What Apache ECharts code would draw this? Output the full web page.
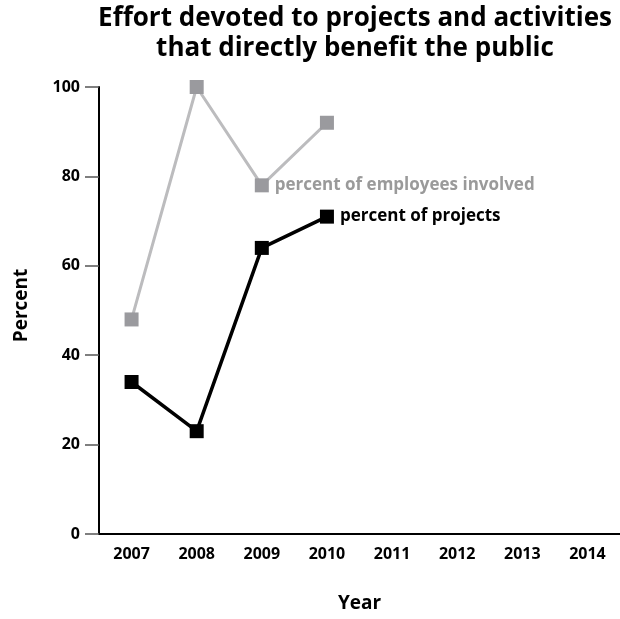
<!DOCTYPE html>
<html><head><meta charset="utf-8">
<script src="https://cdn.jsdelivr.net/npm/echarts@6/dist/echarts.min.js"></script>
<style>html,body{margin:0;padding:0;background:#fff}#c{width:620px;height:619px}</style>
</head><body><div id="c"></div>
<script>
const years = ['2007','2008','2009','2010','2011','2012','2013','2014'];
const employees = [48, 100, 78, 92];
const projects = [34, 23, 64, 71];
const titleLines = ['Effort devoted to projects and activities', 'that directly benefit the public'];
const employeesLabel = 'percent of employees involved';
const projectsLabel = 'percent of projects';
const FONT = 'Open Sans';

const chart = echarts.init(document.getElementById('c'));
const empData = employees.map((v, i) => i === 2 ? {value: v, label: {show: true, position: 'right', distance: 6, formatter: employeesLabel, color: '#9a9a9a', fontFamily: FONT, fontWeight: 'bold', fontSize: 17}} : v);
const projData = projects.map((v, i) => i === projects.length - 1 ? {value: v, label: {show: true, position: 'right', distance: 6, formatter: projectsLabel, color: '#000', fontFamily: FONT, fontWeight: 'bold', fontSize: 17}} : v);
chart.setOption({
  animation: false,
  graphic: [{
    type: 'text', x: 355, y: 4,
    style: {text: titleLines.join('\n'), fill: '#000', font: 'bold 26px "' + FONT + '"', textAlign: 'center', lineHeight: 30}
  }],
  grid: {left: 99, top: 87, width: 525, bottom: 85, containLabel: false},
  xAxis: {
    type: 'category', data: years, boundaryGap: true,
    name: 'Year', nameLocation: 'middle', nameGap: 60,
    nameTextStyle: {fontFamily: FONT, fontWeight: 'bold', fontSize: 19, color: '#000'},
    axisLine: {lineStyle: {color: '#000', width: 2}},
    axisTick: {alignWithLabel: true, length: 11, lineStyle: {color: '#333', width: 1.5}},
    axisLabel: {margin: 12, fontFamily: FONT, fontWeight: 'bold', fontSize: 16, color: '#000'}
  },
  yAxis: {
    type: 'value', min: 0, max: 100, interval: 20,
    name: 'Percent', nameLocation: 'middle', nameGap: 68, nameRotate: 90,
    nameTextStyle: {fontFamily: FONT, fontWeight: 'bold', fontSize: 19, color: '#000', padding: [0, 0, 0, 10]},
    axisLine: {show: true, lineStyle: {color: '#000', width: 2}},
    axisTick: {show: true, length: 14, lineStyle: {color: '#555', width: 1.5}},
    axisLabel: {margin: 19, fontFamily: FONT, fontWeight: 'bold', fontSize: 16, color: '#000'},
    splitLine: {show: false}
  },
  series: [
    {type: 'line', data: empData, symbol: 'rect', symbolSize: 14,
     itemStyle: {color: '#9a9a9e'}, lineStyle: {color: '#bcbcbe', width: 3}, z: 2},
    {type: 'line', data: projData, symbol: 'rect', symbolSize: 14,
     itemStyle: {color: '#000'}, lineStyle: {color: '#000', width: 3.5}, z: 3}
  ]
});
</script></body></html>
